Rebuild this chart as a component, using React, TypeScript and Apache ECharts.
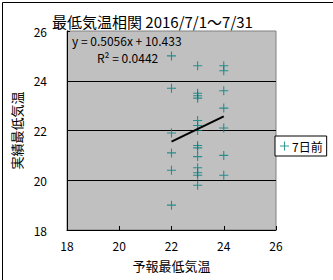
import React, { useEffect, useRef } from "react";
import * as echarts from "echarts";

const forecast = [
  22, 22, 22, 22, 22, 22,
  23, 23, 23, 23, 23, 23, 23, 23, 23, 23, 23, 23, 23, 23,
  24, 24, 24, 24, 24, 24, 24,
];
const actual = [
  25.0, 23.7, 21.9, 21.1, 20.4, 19.0,
  24.6, 23.5, 23.4, 23.3, 22.4, 22.2, 22.0, 21.4, 21.3, 20.95, 20.5, 20.3, 20.2, 19.8,
  24.6, 24.4, 23.6, 22.9, 22.1, 21.0, 20.2,
];
const trendSlope = 0.5056;
const trendIntercept = 10.433;
const axisTicks = [18, 20, 22, 24, 26];
const titleText = "最低気温相関 2016/7/1～7/31";
const seriesName = "7日前";
const xName = "予報最低気温";
const yName = "実績最低気温";
const eqText = "y = 0.5056x + 10.433";
const r2Text = "R² = 0.0442";

const FONT = "'Noto Sans CJK JP', 'Noto Sans', sans-serif";
const CROSS = "path://M4.4,0H5.6V4.4H10V5.6H5.6V10H4.4V5.6H0V4.4H4.4Z";

export default function App() {
  const ref = useRef<HTMLDivElement>(null);
  useEffect(() => {
    if (!ref.current) return;
    const chart = echarts.init(ref.current, null, { renderer: "svg" });
    const pts = forecast.map((x, i) => [x, actual[i]]);
    const xmin = Math.min(...forecast);
    const xmax = Math.max(...forecast);
    const trend = [
      [xmin, trendSlope * xmin + trendIntercept],
      [xmax, trendSlope * xmax + trendIntercept],
    ];
    chart.setOption({
      animation: false,
      backgroundColor: "#ffffff",
      textStyle: { fontFamily: FONT },
      title: {
        text: titleText,
        left: 52,
        top: 12,
        padding: 0,
        textStyle: { fontSize: 15, fontWeight: "normal", color: "#000", fontFamily: FONT, lineHeight: 18 },
      },
      legend: {
        data: [{ name: seriesName, icon: CROSS }],
        left: 275,
        top: 136,
        padding: [4, 4, 4, 5],
        itemWidth: 9,
        itemHeight: 9,
        itemGap: 4,
        borderColor: "#000",
        borderWidth: 1,
        borderRadius: 0,
        backgroundColor: "#fff",
        textStyle: { fontSize: 12, color: "#000", fontFamily: FONT, padding: [0, 0, 0, -2] },
      },
      grid: {
        left: 67,
        right: 57,
        top: 31,
        bottom: 50,
        show: true,
        backgroundColor: "#C0C0C0",
        borderColor: "#808080",
        borderWidth: 1,
      },
      xAxis: {
        type: "value",
        min: axisTicks[0],
        max: axisTicks[axisTicks.length - 1],
        interval: 2,
        name: xName,
        nameLocation: "middle",
        nameGap: 29,
        nameTextStyle: { fontSize: 13, color: "#000", fontFamily: FONT },
        axisLine: { show: true, lineStyle: { color: "#000", width: 1 } },
        axisTick: { show: true, inside: true, length: 4, lineStyle: { color: "#000" } },
        axisLabel: { fontSize: 12, color: "#000", margin: 9, fontFamily: FONT },
        splitLine: { show: false },
      },
      yAxis: {
        type: "value",
        min: axisTicks[0],
        max: axisTicks[axisTicks.length - 1],
        interval: 2,
        name: yName,
        nameLocation: "middle",
        nameGap: 31,
        nameRotate: 90,
        nameTextStyle: { fontSize: 13, color: "#000", fontFamily: FONT },
        axisLine: { show: true, lineStyle: { color: "#000", width: 1 } },
        axisTick: { show: true, inside: true, length: 3, lineStyle: { color: "#000" } },
        axisLabel: { fontSize: 12, color: "#000", margin: 20, fontFamily: FONT },
        splitLine: {
          show: true,
          showMinLine: false,
          showMaxLine: false,
          lineStyle: { color: "#000", width: 1 },
        },
      },
      graphic: [
        {
          type: "rect",
          left: 0,
          top: 0,
          shape: { x: 0.5, y: 0.5, width: 332, height: 279 },
          style: { fill: "none", stroke: "#000", lineWidth: 1 },
          silent: true,
          z: 100,
        },
        {
          type: "text",
          left: 72,
          top: 34,
          style: { text: eqText, fontSize: 12, lineHeight: 13, fill: "#000", fontFamily: FONT },
          z: 100,
        },
        {
          type: "text",
          left: 97,
          top: 51,
          style: { text: r2Text, fontSize: 12, lineHeight: 13, fill: "#000", fontFamily: FONT },
          z: 100,
        },
      ],
      series: [
        {
          name: seriesName,
          type: "scatter",
          data: pts,
          symbol: CROSS,
          symbolSize: 9,
          itemStyle: { color: "#008080" },
          z: 3,
        },
        {
          name: "trend",
          type: "line",
          data: trend,
          showSymbol: false,
          symbol: "none",
          lineStyle: { color: "#000", width: 2 },
          itemStyle: { color: "#000" },
          z: 4,
        },
      ],
    });
    return () => chart.dispose();
  }, []);
  return (
    <div
      ref={ref}
      style={{ position: "fixed", left: 0, top: 0, width: 333, height: 280 }}
    />
  );
}
